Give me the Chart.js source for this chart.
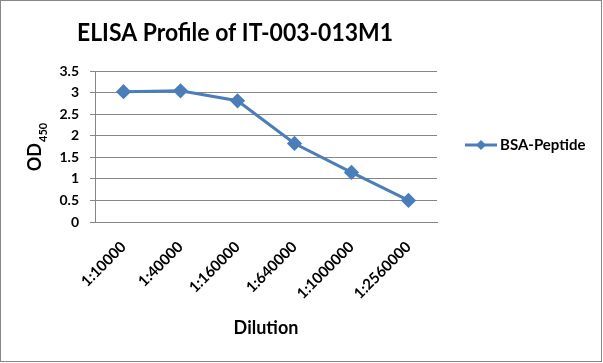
<!DOCTYPE html>
<html><head><meta charset="utf-8">
<script src="https://cdn.jsdelivr.net/npm/chart.js@4"></script>
<style>
html,body{margin:0;padding:0;background:#fff;}
canvas{display:block;}
</style></head>
<body><canvas id="c" width="603" height="363"></canvas>
<script>
const chartTitle = 'ELISA Profile of IT-003-013M1';
const categories = ['1:10000','1:40000','1:160000','1:640000','1:1000000','1:2560000'];
const seriesName = 'BSA-Peptide';
const seriesValues = [3.02, 3.04, 2.81, 1.82, 1.15, 0.50];
const yTicks = [0, 0.5, 1, 1.5, 2, 2.5, 3, 3.5];
const xTitle = 'Dilution';
const yTitleMain = 'OD';
const yTitleSub = '450';

const FONT = 'Lato, "Open Sans", sans-serif';
const BLUE = '#4A7EBB';

const extras = {
  id: 'extras',
  afterDraw(chart) {
    const ctx = chart.ctx;
    const ca = chart.chartArea;
    ctx.save();
    // outer border
    ctx.strokeStyle = '#878787';
    ctx.lineWidth = 1;
    ctx.strokeRect(0.5, 0.5, 601, 361);
    // chart title
    ctx.fillStyle = '#000';
    ctx.font = 'bold 25px ' + FONT;
    ctx.textAlign = 'center';
    ctx.textBaseline = 'alphabetic';
    ctx.fillText(chartTitle, 235, 41, 316);
    ctx.restore();
    // y axis title with subscript
    ctx.save();
    ctx.fillStyle = '#000';
    ctx.translate(35, 147.5);
    ctx.rotate(-Math.PI / 2);
    ctx.font = 'bold 18px ' + FONT;
    const w1 = ctx.measureText(yTitleMain).width;
    ctx.font = 'bold 11px ' + FONT;
    const w2 = ctx.measureText(yTitleSub).width;
    const x0 = -(w1 + w2) / 2;
    ctx.textBaseline = 'alphabetic';
    ctx.font = 'bold 18px ' + FONT;
    ctx.fillText(yTitleMain, x0, 6);
    ctx.font = 'bold 11px ' + FONT;
    ctx.fillText(yTitleSub, x0 + w1 + 1, 12);
    ctx.restore();
    // legend
    ctx.save();
    const ly = 145;
    ctx.strokeStyle = BLUE;
    ctx.lineWidth = 3;
    ctx.beginPath(); ctx.moveTo(465, ly); ctx.lineTo(497, ly); ctx.stroke();
    ctx.fillStyle = BLUE;
    ctx.beginPath();
    ctx.moveTo(481, ly - 5); ctx.lineTo(486, ly); ctx.lineTo(481, ly + 5); ctx.lineTo(476, ly);
    ctx.closePath(); ctx.fill();
    ctx.fillStyle = '#000';
    ctx.font = 'bold 15px ' + FONT;
    ctx.textBaseline = 'middle';
    ctx.fillText(seriesName, 500, ly, 88);
    ctx.restore();
  }
};

new Chart(document.getElementById('c'), {
  type: 'line',
  data: {
    labels: categories,
    datasets: [{
      label: seriesName,
      data: seriesValues,
      borderColor: BLUE,
      backgroundColor: BLUE,
      borderWidth: 3,
      pointStyle: 'rectRot',
      pointRadius: 5.5,
      pointHoverRadius: 5.5,
      tension: 0,
      fill: false
    }]
  },
  options: {
    responsive: false,
    animation: false,
    layout: { padding: { left: 0, right: 166, top: 71, bottom: 0 } },
    plugins: {
      legend: { display: false },
      tooltip: { enabled: false },
      title: { display: false }
    },
    scales: {
      x: {
        offset: true,
        grid: { display: false, drawTicks: false },
        border: { display: true, color: '#868686', width: 1 },
        ticks: {
          color: '#000',
          font: { family: FONT, size: 15, weight: 'bold' },
          minRotation: 45, maxRotation: 45,
          padding: 16,
          autoSkip: false
        },
        title: {
          display: true,
          text: xTitle,
          color: '#000',
          font: { family: FONT, size: 18, weight: 'bold', lineHeight: 1.2 },
          padding: { top: 0, bottom: 24 }
        },
        afterFit(scale) { scale.height = 141; }
      },
      y: {
        min: 0, max: 3.5,
        afterBuildTicks(scale) { scale.ticks = yTicks.map(v => ({ value: v })); },
        grid: { color: '#868686', lineWidth: 1, tickLength: 5, drawTicks: true },
        border: { display: true, color: '#868686', width: 1 },
        ticks: {
          color: '#000',
          font: { family: FONT, size: 14, weight: 'bold' },
          padding: 11,
          callback: v => String(v)
        },
        afterFit(scale) { scale.width = 95; }
      }
    }
  },
  plugins: [extras]
});
</script></body></html>
